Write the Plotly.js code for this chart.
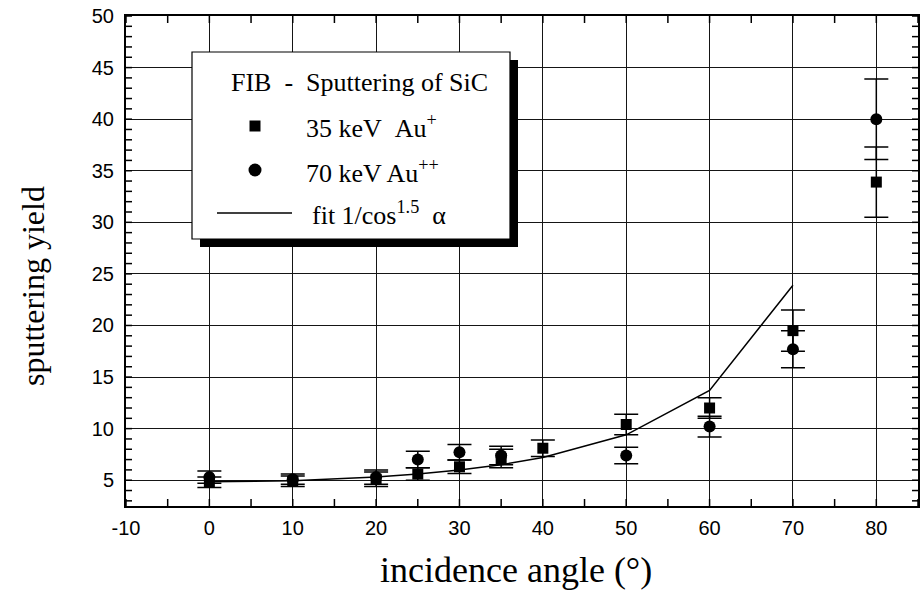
<!DOCTYPE html>
<html>
<head>
<meta charset="utf-8">
<script src="https://cdn.plot.ly/plotly-3.0.1.min.js"></script>
<style>
  html, body { margin: 0; padding: 0; background: #fff; }
  #chart { width: 920px; height: 599px; }
</style>
</head>
<body>
<div id="chart"></div>
<script>
// 35 keV Au+ on SiC
const angles35 = [0, 10, 20, 25, 30, 35, 40, 50, 60, 70, 80];
const yield35  = [4.8, 4.9, 5.1, 5.6, 6.3, 7.1, 8.1, 10.4, 12.0, 19.5, 33.9];
const err35    = [0.5, 0.5, 0.7, 0.6, 0.65, 0.9, 0.8, 1.0, 1.0, 2.0, 3.4];

// 70 keV Au++ on SiC
const angles70 = [0, 10, 20, 25, 30, 35, 50, 60, 70, 80];
const yield70  = [5.3, 5.1, 5.3, 7.0, 7.7, 7.4, 7.4, 10.2, 17.7, 40.0];
const err70    = [0.6, 0.5, 0.7, 0.8, 0.75, 0.9, 0.8, 1.0, 1.8, 3.9];

// 1/cos^1.5 fit curve, sampled at the measured angles
const fitAngles = [0, 10, 20, 25, 30, 35, 40, 50, 60, 70];
const fitYield  = [4.85, 4.95, 5.3, 5.6, 6.0, 6.5, 7.2, 9.4, 13.7, 23.9];

// axis ranges and tick labels
const xRange = [-10, 85];
const yRange = [2.5, 50];
const xTickVals = [-10, 0, 10, 20, 30, 40, 50, 60, 70, 80];
const xTickText = ['-10', '0', '10', '20', '30', '40', '50', '60', '70', '80'];
const yTickVals = [5, 10, 15, 20, 25, 30, 35, 40, 45, 50];
const yTickText = ['5', '10', '15', '20', '25', '30', '35', '40', '45', '50'];
const xMinorStep = 5, yMinorStep = 1;

// plot frame in page pixels
const W = 920, H = 599;
const M = { l: 126, r: 2, t: 16, b: 93 };
const PW = W - M.l - M.r, PH = H - M.t - M.b;
const px = x => (x - M.l) / PW;          // page x -> paper x
const py = y => (H - M.b - y) / PH;      // page y -> paper y

const serif = '"Liberation Serif", "Times New Roman", Times, serif';
const sans  = '"Liberation Sans Narrow", "Arial Narrow", "Liberation Sans", Arial, sans-serif';

const traces = [
  {
    x: fitAngles, y: fitYield, type: 'scatter', mode: 'lines',
    line: { color: '#000', width: 1.5 },
    name: 'fit 1/cos^1.5 α'
  },
  {
    x: angles35, y: yield35, type: 'scatter', mode: 'markers',
    marker: { symbol: 'square', size: 11, color: '#000' },
    error_y: { type: 'data', array: err35, visible: true, color: '#000', thickness: 1.5, width: 12 },
    name: '35 keV Au+'
  },
  {
    x: angles70, y: yield70, type: 'scatter', mode: 'markers',
    marker: { symbol: 'circle', size: 12, color: '#000' },
    error_y: { type: 'data', array: err70, visible: true, color: '#000', thickness: 1.5, width: 12 },
    name: '70 keV Au++'
  }
];

// small inside ticks on all four sides of the frame, placed in axis units
const shapes = [];
const tickLine = { color: '#000', width: 1.5 };
for (let v = Math.ceil(xRange[0] / xMinorStep) * xMinorStep; v <= xRange[1]; v += xMinorStep) {
  shapes.push({ type: 'line', xref: 'x', yref: 'paper', ysizemode: 'pixel', yanchor: 0,
    x0: v, x1: v, y0: 0, y1: 7, line: tickLine });
  shapes.push({ type: 'line', xref: 'x', yref: 'paper', ysizemode: 'pixel', yanchor: 1,
    x0: v, x1: v, y0: 0, y1: -7, line: tickLine });
}
for (let v = Math.ceil(yRange[0] / yMinorStep) * yMinorStep; v <= yRange[1]; v += yMinorStep) {
  shapes.push({ type: 'line', xref: 'paper', yref: 'y', xsizemode: 'pixel', xanchor: 0,
    x0: 0, x1: 6, y0: v, y1: v, line: tickLine });
  shapes.push({ type: 'line', xref: 'paper', yref: 'y', xsizemode: 'pixel', xanchor: 1,
    x0: 0, x1: -6, y0: v, y1: v, line: tickLine });
}

// legend box with drop shadow, drawn by hand
shapes.push(
  { type: 'rect', xref: 'paper', yref: 'paper', layer: 'above',
    x0: px(200), x1: px(518), y0: py(247), y1: py(60),
    fillcolor: '#000', line: { width: 0 } },
  { type: 'rect', xref: 'paper', yref: 'paper', layer: 'above',
    x0: px(192), x1: px(510), y0: py(239), y1: py(52),
    fillcolor: '#fff', line: { color: '#000', width: 1.2 } },
  { type: 'rect', xref: 'paper', yref: 'paper', layer: 'above',
    x0: px(249.5), x1: px(260.5), y0: py(131.5), y1: py(120.5),
    fillcolor: '#000', line: { width: 0 } },
  { type: 'circle', xref: 'paper', yref: 'paper', layer: 'above',
    x0: px(248.5), x1: px(261.5), y0: py(176.5), y1: py(163.5),
    fillcolor: '#000', line: { width: 0 } },
  { type: 'line', xref: 'paper', yref: 'paper', layer: 'above',
    x0: px(217), x1: px(292), y0: py(213), y1: py(213),
    line: { color: '#000', width: 1.5 } }
);

const legFont = { family: serif, size: 26, color: '#000' };
const NB = '\u00A0';
const annotations = [
  { text: 'FIB' + NB + NB + '-' + NB + NB + 'Sputtering of SiC', x: px(229), y: py(83) },
  { text: '35 keV' + NB + NB + 'Au<sup>+</sup>', x: px(304), y: py(126) },
  { text: '70 keV Au<sup>++</sup>', x: px(304), y: py(171) },
  { text: 'fit 1/cos<sup>1.5</sup>' + NB + NB + 'α', x: px(310), y: py(214) }
].map(a => Object.assign({
  xref: 'paper', yref: 'paper', xanchor: 'left', yanchor: 'middle',
  showarrow: false, font: legFont
}, a));

// axis titles
annotations.push({
  text: 'incidence angle (°)', xref: 'paper', yref: 'paper',
  x: px(516), y: py(570), xanchor: 'center', yanchor: 'middle',
  showarrow: false, font: { family: serif, size: 36, color: '#000' }
});
annotations.push({
  text: 'sputtering yield', xref: 'paper', yref: 'paper', textangle: -90,
  x: px(33), y: py(286), xanchor: 'center', yanchor: 'middle',
  showarrow: false, font: { family: serif, size: 32, color: '#000' }
});

const axisCommon = {
  showline: true, linecolor: '#000', linewidth: 2, mirror: true,
  ticks: '', showgrid: true, gridcolor: '#151515', gridwidth: 1,
  zeroline: false, tickmode: 'array',
  tickfont: { family: sans, size: 20, color: '#000' }
};

const layout = {
  width: W, height: H,
  margin: M,
  paper_bgcolor: '#fff', plot_bgcolor: '#fff',
  showlegend: false,
  xaxis: Object.assign({}, axisCommon, {
    range: xRange, tickvals: xTickVals, ticktext: xTickText, ticklabelstandoff: 3
  }),
  yaxis: Object.assign({}, axisCommon, {
    range: yRange, tickvals: yTickVals, ticktext: yTickText, ticklabelstandoff: 6
  }),
  shapes: shapes,
  annotations: annotations
};

Plotly.newPlot('chart', traces, layout, { staticPlot: true, displayModeBar: false });
</script>
</body>
</html>
